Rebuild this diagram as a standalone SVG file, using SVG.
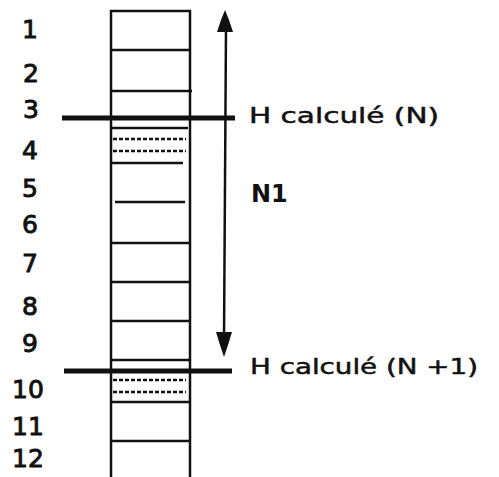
<svg xmlns="http://www.w3.org/2000/svg" width="499" height="477" viewBox="0 0 499 477">
<style>
.num{font-family:"DejaVu Sans",sans-serif;font-size:25px;fill:#111;stroke:#111;stroke-width:0.9;text-anchor:middle}
.lbl{font-family:"DejaVu Sans",sans-serif;font-size:22px;fill:#111;stroke:#111;stroke-width:0.5}
.bold{font-family:"DejaVu Sans",sans-serif;font-size:24px;font-weight:bold;fill:#111}
.ln{stroke:#111;stroke-width:2.5;fill:none}
.th{stroke:#111;stroke-width:5;fill:none}
.ds{stroke:#111;stroke-width:2.5;stroke-dasharray:4 2;fill:none}
</style>
<rect width="499" height="477" fill="#fff"/>
<g id="column">
<path class="ln" d="M111,477 V11 H190 V477"/>
<path class="ln" d="M111,50 H190 M111,91 H192 M111,128 H188 M111,163 H183 M115,202 H185 M111,243 H189 M111,282 H189 M111,321 H189 M111,360 H189 M111,402 H189 M111,441 H189"/>
<path class="ds" d="M113,139 H186 M113,151 H186 M113,380 H186 M113,392 H186"/>
</g>
<g id="levels">
<path class="th" d="M62,118 H235"/>
<path class="th" d="M64,371 H232"/>
</g>
<g id="connectors">
<path class="ln" d="M226,28 L224,338"/>
<polygon points="225,10 229,20 233,32 217,32 221,20" fill="#111"/>
<polygon points="216,332 232,332 228,345 224,357 220,345" fill="#111"/>
</g>
<g id="numbers">
<text class="num" x="30" y="38">1</text>
<text class="num" x="31" y="82">2</text>
<text class="num" x="31" y="118">3</text>
<text class="num" x="30" y="159">4</text>
<text class="num" x="30" y="197">5</text>
<text class="num" x="30" y="233">6</text>
<text class="num" x="30" y="272">7</text>
<text class="num" x="30" y="315">8</text>
<text class="num" x="30" y="352">9</text>
<text class="num" x="28" y="398">10</text>
<text class="num" x="28" y="435">11</text>
<text class="num" x="28" y="467">12</text>
</g>
<g id="labels">
<text class="lbl" x="249" y="123" textLength="190" lengthAdjust="spacingAndGlyphs">H calculé (N)</text>
<text class="bold" x="251" y="202">N1</text>
<text class="lbl" x="250" y="374" textLength="228" lengthAdjust="spacingAndGlyphs">H calculé (N +1)</text>
</g>
</svg>
